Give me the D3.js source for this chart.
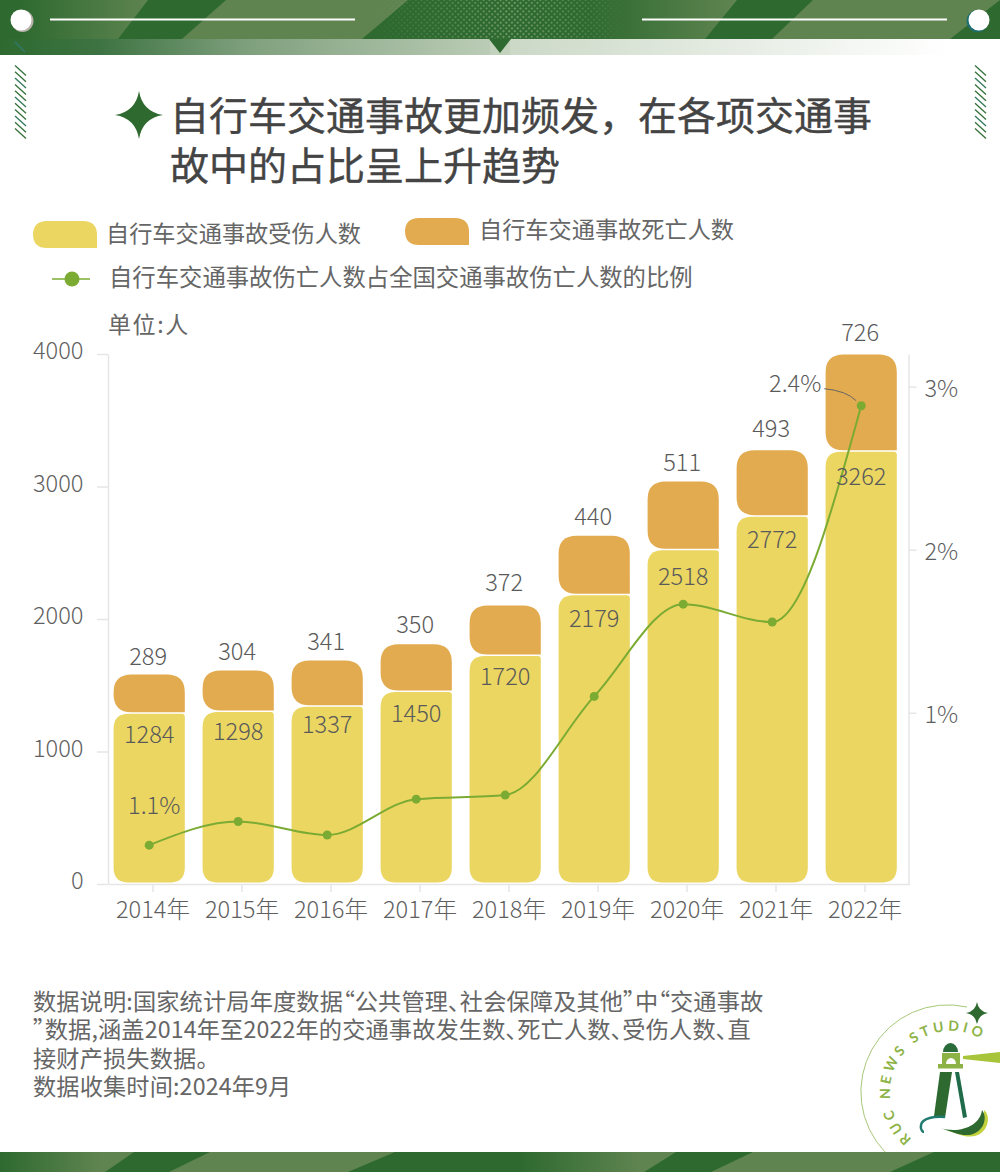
<!DOCTYPE html>
<html>
  <head>
    <title>自行车交通事故</title>
    <meta charset="utf-8" />
    <style>
      body {
        margin: 0;
        background: #fff;
      }

      svg {
        display: block;
      }

      text {
        font-family: "Noto Sans CJK SC", "Noto Sans", sans-serif;
        fill: #666;
      }

      .axis text {
        font-size: 23.6px;
        font-weight: 300;
        fill: #5f5f5f;
      }

      .axis line,
      .axis path {
        stroke: #e6e6e6;
        stroke-width: 1.5px;
      }
    </style>
    <script src="https://d3js.org/d3.v7.min.js"></script>
  </head>
  <body>
    <div id="svganchor"></div>

    <script type="text/javascript">
      // data
      var years = ["2014", "2015", "2016", "2017", "2018", "2019", "2020", "2021", "2022"];
      var injured = [1284, 1298, 1337, 1450, 1720, 2179, 2518, 2772, 3262];
      var deaths = [289, 304, 341, 350, 372, 440, 511, 493, 726];
      // share of all traffic accident casualties, in %
      var share = [1.1, 1.17, 1.13, 1.236, 1.248, 1.54, 1.813, 1.76, 2.4];
      var leftTicks = [0, 1000, 2000, 3000, 4000];
      var rightTicks = [1, 2, 3];

      var titleLines = ["自行车交通事故更加频发，在各项交通事", "故中的占比呈上升趋势"];
      var noteLines = [
        "数据说明:国家统计局年度数据“公共管理、社会保障及其他”中“交通事故",
        "”数据,涵盖2014年至2022年的交通事故发生数、死亡人数、受伤人数、直",
        "接财产损失数据。",
        "数据收集时间:2024年9月",
      ];

      // the value labels were placed by hand in the original
      var injuredNudge = [-2, -3, -5, -1, -2, 1, 4, 0, 2];
      var deathsNudge = [-11, -11.5, -12, -12.5, -16, -11.5, -12, -14.5, -15];

      var YELLOW = "#ebd661";
      var ORANGE = "#e3ab4f";
      var LINE = "#7bab32";
      var DARK = "#2e6a30";
      var LIGHT = "#5f8450";

      var w = 1000;
      var h = 1172;

      var svg = d3
        .select("#svganchor")
        .append("svg")
        .attr("width", w)
        .attr("height", h);

      var defs = svg.append("defs");

      // rect with its own radius on every corner
      function corners(x, y, bw, bh, tl, tr, br, bl) {
        var p = d3.path();
        p.moveTo(x + tl, y);
        p.lineTo(x + bw - tr, y);
        p.quadraticCurveTo(x + bw, y, x + bw, y + tr);
        p.lineTo(x + bw, y + bh - br);
        p.quadraticCurveTo(x + bw, y + bh, x + bw - br, y + bh);
        p.lineTo(x + bl, y + bh);
        p.quadraticCurveTo(x, y + bh, x, y + bh - bl);
        p.lineTo(x, y + tl);
        p.quadraticCurveTo(x, y, x + tl, y);
        p.closePath();
        return p.toString();
      }

      function star(cx, cy, r) {
        var k = r * 0.14;
        return (
          "M" + cx + "," + (cy - r) +
          "Q" + (cx + k) + "," + (cy - k) + " " + (cx + r) + "," + cy +
          "Q" + (cx + k) + "," + (cy + k) + " " + cx + "," + (cy + r) +
          "Q" + (cx - k) + "," + (cy + k) + " " + (cx - r) + "," + cy +
          "Q" + (cx - k) + "," + (cy - k) + " " + cx + "," + (cy - r) + "Z"
        );
      }

      function gradient(id, stops, x1, x2) {
        var g = defs
          .append("linearGradient")
          .attr("id", id)
          .attr("gradientUnits", "userSpaceOnUse")
          .attr("x1", x1)
          .attr("x2", x2)
          .attr("y1", 0)
          .attr("y2", 0);
        stops.forEach(function (s) {
          g.append("stop").attr("offset", s[0]).attr("stop-color", s[1]).attr("stop-opacity", s[2]);
        });
      }

      function poly(parent, pts, fill) {
        parent.append("polygon").attr("points", pts).attr("fill", fill);
      }

      /* ---------- header ---------- */
      gradient("fadeIn", [[0, LIGHT, 0], [1, LIGHT, 1]], 20, 150);
      gradient("fadeInR", [[0, LIGHT, 0], [1, LIGHT, 1]], 590, 735);
      gradient("bandL", [[0, DARK, 1], [0.2, "#3d7342", 1], [0.5, "#7fa07d", 1], [1, "#bccdb7", 1]], 0, 495);
      gradient("bandR", [[0, "#cbd8c6", 1], [1, "#ffffff", 1]], 505, 950);
      gradient("dotFade", [[0, "#fff", 0], [0.55, "#fff", 1], [0.8, "#fff", 0.6], [1, "#fff", 0]], 370, 625);

      var dots = defs
        .append("pattern")
        .attr("id", "dots")
        .attr("patternUnits", "userSpaceOnUse")
        .attr("width", 4)
        .attr("height", 4)
        .attr("patternTransform", "rotate(-45)");
      dots.append("circle").attr("cx", 2).attr("cy", 2).attr("r", 0.85).attr("fill", "#a9c29c");

      defs.append("mask").attr("id", "dotMask").append("rect")
        .attr("width", w).attr("height", 39).attr("fill", "url(#dotFade)");

      var head = svg.append("g");
      head.append("rect").attr("width", w).attr("height", 39).attr("fill", DARK);
      poly(head, "0,0 148,0 118,39 0,39", "url(#fadeIn)");
      poly(head, "226,0 408,0 362,39 182,39", LIGHT);
      poly(head, "590,0 737,0 705,39 590,39", "url(#fadeInR)");
      poly(head, "813,0 1000,0 950,39 772,39", LIGHT);
      head.append("rect").attr("x", 370).attr("width", 255).attr("height", 39)
        .attr("fill", "url(#dots)").attr("mask", "url(#dotMask)");
      head.append("rect").attr("y", 39).attr("width", 495).attr("height", 16).attr("fill", "url(#bandL)");
      head.append("rect").attr("x", 505).attr("y", 39).attr("width", 445).attr("height", 16).attr("fill", "url(#bandR)");
      head.append("rect").attr("x", 490).attr("y", 39).attr("width", 20).attr("height", 16).attr("fill", "#c3d2bd");
      poly(head, "489,39 511,39 500,53", DARK);
      head.append("line").attr("x1", 15).attr("y1", 42).attr("x2", 25).attr("y2", 52).attr("stroke", "#2f7a72").attr("stroke-width", 1.3);

      head.selectAll("line.rule")
        .data([[50, 355], [642, 947]])
        .enter()
        .append("line")
        .attr("x1", function (d) { return d[0]; })
        .attr("x2", function (d) { return d[1]; })
        .attr("y1", 19.5)
        .attr("y2", 19.5)
        .attr("stroke", "#fff")
        .attr("stroke-width", 2);

      // pins
      [[21, "#b9b3ac", 1.5], [979, "#1f6f72", -1.5]].forEach(function (b) {
        head.append("circle").attr("cx", b[0] + b[2]).attr("cy", 21).attr("r", 11).attr("fill", b[1]);
        head.append("circle").attr("cx", b[0]).attr("cy", 20).attr("r", 10.5).attr("fill", "#fff");
      });

      // hatch strips
      [15, 975].forEach(function (sx) {
        svg.append("g")
          .selectAll("line")
          .data(d3.range(11))
          .enter()
          .append("line")
          .attr("x1", sx)
          .attr("x2", sx + 11)
          .attr("y1", function (i) { return 65.5 + i * 6.3; })
          .attr("y2", function (i) { return 75.5 + i * 6.3; })
          .attr("stroke", function (i) { return i % 3 == 2 ? "#2f7a5a" : "#35703a"; })
          .attr("stroke-width", 1.3);
      });

      /* ---------- title ---------- */
      svg.append("path").attr("d", star(139, 115, 24)).attr("fill", DARK);
      svg.selectAll("text.title")
        .data(titleLines)
        .enter()
        .append("text")
        .attr("class", "title")
        .attr("x", 170)
        .attr("y", function (d, i) { return 130 + i * 50; })
        .attr("font-size", 39)
        .attr("font-weight", 400)
        .style("fill", "#444")
        .style("stroke", "#444")
        .style("stroke-width", 0.4)
        .text(function (d) { return d; });

      /* ---------- legend ---------- */
      var legend = svg.append("g");
      legend.append("path").attr("d", corners(33, 221, 64, 27, 14, 14, 0, 14)).attr("fill", YELLOW);
      legend.append("text").attr("x", 106).attr("y", 242).attr("font-size", 23.2).text("自行车交通事故受伤人数");
      legend.append("path").attr("d", corners(405, 218, 64, 27, 14, 14, 0, 14)).attr("fill", ORANGE);
      legend.append("text").attr("x", 479).attr("y", 238).attr("font-size", 23.2).text("自行车交通事故死亡人数");
      legend.append("line").attr("x1", 52).attr("x2", 90).attr("y1", 279).attr("y2", 279).attr("stroke", LINE).attr("stroke-width", 1.5);
      legend.append("circle").attr("cx", 72).attr("cy", 279).attr("r", 7.5).attr("fill", LINE);
      legend.append("text").attr("x", 109).attr("y", 286).attr("font-size", 23.35).text("自行车交通事故伤亡人数占全国交通事故伤亡人数的比例");
      svg.append("text").attr("x", 108).attr("y", 333).attr("font-size", 23).attr("letter-spacing", 1.6).text("单位:人");

      /* ---------- scales ---------- */
      var x = d3.scaleBand().domain(years).range([108.5, 909.5]).paddingInner(0.2).paddingOuter(0.1);
      var y = d3.scaleLinear().domain([0, 4000]).range([884, 354]);
      // printed right axis
      var yRight = d3.scaleLinear().domain([-0.05, 3.2]).range([884, 354]);
      // the line does not sit on the printed axis in the original: 1.1% and 2.4% are its anchors
      var yLine = d3.scaleLinear().domain([0.985, 2.553]).range([884, 354]);

      // bars and line sit a little left of the tick marks
      var shift = -3.8;
      function barX(d) { return x(d) + shift; }
      function mid(d) { return x(d) + x.bandwidth() / 2 + shift; }

      /* ---------- axes ---------- */
      var axisLeft = svg.append("g")
        .attr("class", "axis")
        .attr("transform", "translate(108,0)")
        .call(d3.axisLeft(y).tickValues(leftTicks).tickSize(11).tickSizeOuter(0).tickPadding(13.5).tickFormat(d3.format("d")));
      axisLeft.selectAll("text").attr("dy", "0.2em");

      var axisRight = svg.append("g")
        .attr("class", "axis")
        .attr("transform", "translate(908.5,0)")
        .call(d3.axisRight(yRight).tickValues(rightTicks).tickSize(8).tickSizeOuter(0).tickPadding(8).tickFormat(function (d) { return d + "%"; }));
      axisRight.selectAll("text").attr("dy", "0.4em");

      var axisBottom = svg.append("g")
        .attr("class", "axis")
        .attr("transform", "translate(0,884)")
        .call(d3.axisBottom(x).tickSize(8).tickSizeOuter(0).tickPadding(9).tickFormat(function (d) { return d + "年"; }));

      /* ---------- bars ---------- */
      svg.append("g")
        .selectAll("path")
        .data(years)
        .enter()
        .append("path")
        .attr("d", function (d, i) {
          return corners(barX(d), y(injured[i]), x.bandwidth(), y(0) - y(injured[i]) - 1.5, 15, 3, 15, 15);
        })
        .attr("fill", YELLOW);

      svg.append("g")
        .selectAll("path")
        .data(years)
        .enter()
        .append("path")
        .attr("d", function (d, i) {
          var top = y(injured[i] + deaths[i]) - 1.2;
          return corners(barX(d), top, x.bandwidth(), y(injured[i]) - top - 1.5, 18, 18, 0, 18);
        })
        .attr("fill", ORANGE);

      /* ---------- line ---------- */
      var line = d3.line()
        .x(function (d, i) { return mid(years[i]); })
        .y(function (d) { return yLine(d); })
        .curve(d3.curveMonotoneX);

      svg.append("path")
        .attr("d", line(share))
        .attr("fill", "none")
        .attr("stroke", LINE)
        .attr("stroke-width", 2);

      svg.append("g")
        .selectAll("circle")
        .data(share)
        .enter()
        .append("circle")
        .attr("cx", function (d, i) { return mid(years[i]); })
        .attr("cy", function (d) { return yLine(d); })
        .attr("r", 4.5)
        .attr("fill", LINE);

      /* ---------- value labels ---------- */
      svg.append("g")
        .selectAll("text")
        .data(injured)
        .enter()
        .append("text")
        .attr("x", function (d, i) { return mid(years[i]); })
        .attr("y", function (d, i) { return y(d) + 31 + injuredNudge[i]; })
        .attr("text-anchor", "middle")
        .attr("font-size", 23.6)
        .attr("font-weight", 300)
        .style("fill", "#5a5a5a")
        .text(function (d) { return d; });

      svg.append("g")
        .selectAll("text")
        .data(deaths)
        .enter()
        .append("text")
        .attr("x", function (d, i) { return mid(years[i]) - 1; })
        .attr("y", function (d, i) { return y(d + injured[i]) + deathsNudge[i]; })
        .attr("text-anchor", "middle")
        .attr("font-size", 23.6)
        .attr("font-weight", 300)
        .style("fill", "#5a5a5a")
        .text(function (d) { return d; });

      // first and last share labels
      var x0 = mid(years[0]);
      var y0 = yLine(share[0]);
      var x8 = mid(years[8]);
      var y8 = yLine(share[8]);
      svg.append("text").attr("x", x0 + 5).attr("y", y0 - 31).attr("text-anchor", "middle").attr("font-size", 23.6).attr("font-weight", 300).style("fill", "#5a5a5a").text(share[0].toFixed(1) + "%");
      svg.append("text").attr("x", x8 - 66).attr("y", y8 - 14).attr("text-anchor", "middle").attr("font-size", 23.6).attr("font-weight", 300).style("fill", "#5a5a5a").text(share[8].toFixed(1) + "%");
      svg.append("path")
        .attr("d", "M" + (x8 - 37) + "," + (y8 - 17) + "Q" + (x8 - 15) + "," + (y8 - 15) + " " + (x8 - 5) + "," + (y8 - 5))
        .attr("fill", "none")
        .attr("stroke", "#666")
        .attr("stroke-width", 1);

      /* ---------- notes ---------- */
      svg.selectAll("text.note")
        .data(noteLines)
        .enter()
        .append("text")
        .attr("class", "note")
        .attr("x", 33)
        .attr("y", function (d, i) { return 1010 + i * 28.3; })
        .attr("font-size", 23.2)
        .attr("letter-spacing", 0.15)
        .style("font-feature-settings", '"palt"')
        .text(function (d) { return d; });

      /* ---------- footer ---------- */
      gradient("footFade", [[0, DARK, 1], [1, LIGHT, 1]], 520, 640);
      gradient("footFadeL", [[0, DARK, 1], [1, LIGHT, 1]], 0, 100);
      var foot = svg.append("g");
      foot.append("rect").attr("y", 1152).attr("width", w).attr("height", 20).attr("fill", DARK);
      poly(foot, "0,1152 134,1152 105,1172 0,1172", "url(#footFadeL)");
      poly(foot, "210,1152 395,1152 348,1172 169,1172", LIGHT);
      poly(foot, "520,1152 676,1152 644,1172 520,1172", "url(#footFade)");
      poly(foot, "753,1152 934,1152 890,1172 711,1172", LIGHT);

      /* ---------- logo ---------- */
      var logo = svg.append("g");
      logo.append("path")
        .attr("d", "M885,1152A87,87 0 0 1 967,1007")
        .attr("fill", "none")
        .attr("stroke", "#a9c77a")
        .attr("stroke-width", 1);
      defs.append("path").attr("id", "logoArc").attr("d", "M912,1139A61,61 0 1 1 990,1045");
      logo.append("text")
        .attr("font-size", 14)
        .attr("font-weight", 700)
        .attr("letter-spacing", 3.6)
        .style("font-family", "Lato")
        .style("fill", "#8db347")
        .append("textPath")
        .attr("href", "#logoArc")
        .text("RUC NEWS STUDIO");
      logo.append("path").attr("d", star(977, 1013, 11)).attr("fill", DARK);
      poly(logo, "963,1056 1000,1052 1000,1063 963,1059", "#a8c43a");
      logo.append("path").attr("d", "M943,1052A7.5,9 0 0 1 958,1052Z").attr("fill", "#2a6b3a");
      logo.append("rect").attr("x", 942).attr("y", 1053).attr("width", 18).attr("height", 11).attr("fill", "#8db347");
      logo.append("path").attr("d", "M946,1064A5,6 0 0 1 956,1064Z").attr("fill", "#fff");
      logo.append("rect").attr("x", 938).attr("y", 1064).attr("width", 25).attr("height", 4.5).attr("fill", "#8db347");
      poly(logo, "940,1072 952,1072 945,1118 934,1116", "#2e6a30");
      poly(logo, "955,1072 959,1072 967,1117 963,1118", "#1f6b4a");
      logo.append("path")
        .attr("d", "M945,1117C935,1116 922,1118 921,1125C920,1130 923,1132 924,1132")
        .attr("fill", "none")
        .attr("stroke", "#1f7a70")
        .attr("stroke-width", 2.5);
      logo.append("path").attr("d", "M940,1128C960,1136 985,1126 984,1110C994,1118 985,1145 958,1134Z").attr("fill", "#c2d13c");
      logo.append("path").attr("d", "M940,1128C960,1134 980,1126 982,1110C990,1120 980,1142 955,1133Z").attr("fill", "#2e6a30");
    </script>
  </body>
</html>
